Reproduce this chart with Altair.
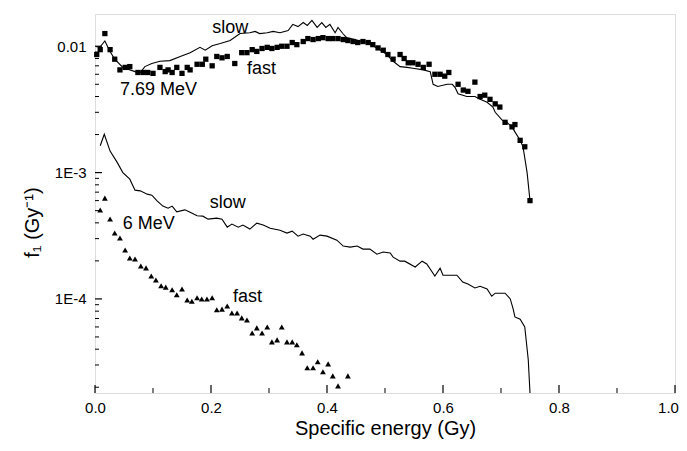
import altair as alt
import pandas as pd

# ---- 7.69 MeV, fast (squares) ----
x_fast769 = [0.003, 0.009, 0.017, 0.026, 0.034, 0.043, 0.052, 0.060, 0.074, 0.083,
             0.091, 0.100, 0.112, 0.121, 0.126, 0.133, 0.141, 0.150, 0.159, 0.164,
             0.176, 0.185, 0.191, 0.202, 0.210, 0.219, 0.228, 0.241, 0.253, 0.262,
             0.271, 0.279, 0.288, 0.297, 0.305, 0.314, 0.322, 0.331, 0.340, 0.348,
             0.359, 0.367, 0.376, 0.385, 0.393, 0.402, 0.410, 0.419, 0.428, 0.436,
             0.445, 0.453, 0.462, 0.471, 0.479, 0.488, 0.497, 0.505, 0.514, 0.526,
             0.533, 0.540, 0.548, 0.557, 0.566, 0.576, 0.586, 0.595, 0.603, 0.610,
             0.626, 0.635, 0.643, 0.655, 0.664, 0.672, 0.681, 0.690, 0.698, 0.707,
             0.719, 0.724, 0.733, 0.741, 0.750]
y_fast769 = [0.0086, 0.0094, 0.0126, 0.0094, 0.0079, 0.0065, 0.0068, 0.0069, 0.0062, 0.0062,
             0.0062, 0.0061, 0.0068, 0.0063, 0.0065, 0.0062, 0.0068, 0.0061, 0.0068, 0.0065,
             0.0072, 0.0072, 0.0079, 0.0070, 0.0083, 0.0081, 0.0083, 0.0073, 0.0089, 0.0089,
             0.0094, 0.0091, 0.0096, 0.0098, 0.0096, 0.0098, 0.0100, 0.0100, 0.0107, 0.0103,
             0.0109, 0.0115, 0.0113, 0.0115, 0.0117, 0.0115, 0.0115, 0.0115, 0.0113, 0.0111,
             0.0109, 0.0107, 0.0109, 0.0107, 0.0103, 0.0097, 0.0093, 0.0086, 0.0079, 0.0086,
             0.0080, 0.0074, 0.0074, 0.0072, 0.0068, 0.0072, 0.0060, 0.0060, 0.0058, 0.0062,
             0.0050, 0.0045, 0.0044, 0.0052, 0.0040, 0.0041, 0.0038, 0.0035, 0.0033, 0.0025,
             0.0023, 0.0024, 0.0018, 0.0016, 0.0006]

# ---- 7.69 MeV, slow (line) ----
x_slow769 = [0.002, 0.009, 0.017, 0.026, 0.034, 0.048, 0.069, 0.078, 0.086, 0.098,
             0.112, 0.129, 0.147, 0.164, 0.181, 0.190, 0.202, 0.216, 0.233, 0.250,
             0.267, 0.276, 0.284, 0.297, 0.307, 0.319, 0.333, 0.341, 0.350, 0.359,
             0.366, 0.374, 0.383, 0.391, 0.398, 0.405, 0.414, 0.419, 0.428, 0.434,
             0.448, 0.460, 0.471, 0.479, 0.491, 0.503, 0.514, 0.526, 0.538, 0.548,
             0.566, 0.578, 0.583, 0.591, 0.607, 0.616, 0.621, 0.626, 0.641, 0.655,
             0.664, 0.676, 0.686, 0.690, 0.702, 0.710, 0.719, 0.724, 0.733, 0.738,
             0.745, 0.750]
y_slow769 = [0.0099, 0.0099, 0.0110, 0.0091, 0.0079, 0.0068, 0.0063, 0.0062, 0.0069, 0.0073,
             0.0076, 0.0077, 0.0083, 0.0089, 0.0098, 0.0093, 0.0101, 0.0105, 0.0111, 0.0126,
             0.0128, 0.0131, 0.0126, 0.0128, 0.0131, 0.0128, 0.0133, 0.0149, 0.0143, 0.0154,
             0.0146, 0.0160, 0.0141, 0.0154, 0.0141, 0.0149, 0.0128, 0.0141, 0.0125, 0.0117,
             0.0113, 0.0109, 0.0107, 0.0101, 0.0094, 0.0086, 0.0076, 0.0069, 0.0068, 0.0067,
             0.0065, 0.0063, 0.0050, 0.0048, 0.0050, 0.0050, 0.0047, 0.0042, 0.0040, 0.0040,
             0.0038, 0.0036, 0.0033, 0.0030, 0.0026, 0.0025, 0.0023, 0.0021, 0.0018, 0.0016,
             0.0010, 0.0006]

# ---- 6 MeV, slow (line) ----
x_slow6 = [0.009, 0.016, 0.026, 0.038, 0.048, 0.060, 0.069, 0.078, 0.090, 0.098,
           0.107, 0.117, 0.126, 0.133, 0.141, 0.155, 0.164, 0.176, 0.186, 0.195,
           0.210, 0.219, 0.228, 0.236, 0.247, 0.255, 0.267, 0.279, 0.290, 0.302,
           0.319, 0.331, 0.340, 0.350, 0.359, 0.371, 0.376, 0.388, 0.400, 0.417,
           0.428, 0.440, 0.452, 0.462, 0.474, 0.486, 0.497, 0.509, 0.514, 0.526,
           0.534, 0.552, 0.564, 0.572, 0.586, 0.595, 0.600, 0.624, 0.634, 0.643,
           0.655, 0.664, 0.676, 0.684, 0.690, 0.707, 0.716, 0.721, 0.724, 0.733,
           0.741, 0.747, 0.752]
y_slow6 = [0.00163, 0.00201, 0.00148, 0.00121, 0.00100, 0.000887, 0.000726, 0.000717, 0.000675, 0.000663,
           0.000597, 0.000543, 0.000523, 0.000543, 0.000489, 0.000507, 0.000486, 0.000455, 0.000452, 0.000428,
           0.000436, 0.000428, 0.000370, 0.000391, 0.000370, 0.000384, 0.000357, 0.000398, 0.000384, 0.000363,
           0.000350, 0.000332, 0.000344, 0.000314, 0.000326, 0.000314, 0.000297, 0.000320, 0.000314, 0.000292,
           0.000262, 0.000257, 0.000262, 0.000248, 0.000248, 0.000226, 0.000235, 0.000231, 0.000214, 0.000199,
           0.000199, 0.000179, 0.000199, 0.000189, 0.000152, 0.000175, 0.000154, 0.000154, 0.000136, 0.000131,
           0.000122, 0.000126, 0.000120, 0.000105, 0.000111, 0.000111, 0.000100, 0.0000830, 0.0000720, 0.0000690,
           0.0000600, 0.0000330, 0.0000120]

# ---- 6 MeV, fast (triangles) ----
x_fast6 = [0.009, 0.017, 0.026, 0.034, 0.043, 0.052, 0.060, 0.069, 0.079, 0.088,
           0.097, 0.105, 0.114, 0.122, 0.133, 0.141, 0.150, 0.159, 0.167, 0.176,
           0.184, 0.193, 0.202, 0.210, 0.219, 0.228, 0.236, 0.245, 0.253, 0.262,
           0.271, 0.279, 0.288, 0.297, 0.305, 0.314, 0.322, 0.331, 0.340, 0.348,
           0.357, 0.366, 0.376, 0.384, 0.393, 0.402, 0.410, 0.419, 0.436]
y_fast6 = [5.05e-4, 6.28e-4, 4.29e-4, 3.32e-4, 3.04e-4, 2.44e-4, 2.11e-4, 2.07e-4, 1.82e-4, 1.76e-4,
           1.52e-4, 1.41e-4, 1.27e-4, 1.24e-4, 1.18e-4, 1.08e-4, 1.20e-4, 9.8e-5, 9.6e-5, 1.02e-4,
           1.00e-4, 1.00e-4, 1.02e-4, 8.2e-5, 8.3e-5, 8.8e-5, 7.75e-5, 7.75e-5, 7.08e-5, 6.82e-5,
           5.38e-5, 5.9e-5, 5.38e-5, 6.0e-5, 4.57e-5, 4.74e-5, 6.0e-5, 4.57e-5, 4.57e-5, 4.33e-5,
           3.74e-5, 2.85e-5, 2.85e-5, 3.18e-5, 2.65e-5, 3.06e-5, 2.46e-5, 2.05e-5, 2.46e-5]

# ---- annotations ----
ann_text = ["slow", "fast", "7.69 MeV", "slow", "6 MeV", "fast"]
ann_x = [0.202, 0.262, 0.043, 0.198, 0.048, 0.238]
ann_y = [0.0128, 0.0060, 0.00415, 5.23e-4, 3.57e-4, 9.47e-5]

# ---- axis ticks ----
x_major = [0.0, 0.2, 0.4, 0.6, 0.8, 1.0]
x_minor = [0.1, 0.3, 0.5, 0.7, 0.9]
y_major = [1e-4, 1e-3, 1e-2]
y_minor = [m * d for d in [1e-5, 1e-4, 1e-3] for m in range(2, 10) if 1.8e-5 <= m * d <= 0.018]

W, H = 580, 379
FONT = "Liberation Sans"

xs = alt.Scale(domain=[0, 1], nice=False, zero=False)
ys = alt.Scale(type="log", domain=[1.8e-5, 0.018], nice=False)

df_f769 = pd.DataFrame({"x": x_fast769, "y": y_fast769})
df_s769 = pd.DataFrame({"x": x_slow769, "y": y_slow769})
df_s6 = pd.DataFrame({"x": x_slow6, "y": y_slow6})
df_f6 = pd.DataFrame({"x": x_fast6, "y": y_fast6})
df_ann = pd.DataFrame({"x": ann_x, "y": ann_y, "t": ann_text})

xaxis = alt.Axis(values=x_major, format=".1f", title="Specific energy (Gy)", grid=False,
                 ticks=False, domain=False, labelFontSize=15, labelPadding=7, labelFlush=False,
                 labelOffset={"condition": {"test": "datum.value >= 0.99", "value": -7}, "value": 0},
                 titleFontSize=20, titleFontWeight="normal", titlePadding=3,
                 labelFont=FONT, titleFont=FONT, labelColor="black", titleColor="black")
yaxis = alt.Axis(values=y_major, title="f\u2081 (Gy\u207b\u00b9)", grid=False, ticks=False, domain=False,
                 labelExpr="datum.value >= 0.009 ? '0.01' : (datum.value >= 0.0009 ? '1E-3' : '1E-4')",
                 labelFontSize=15, labelPadding=9, labelFlush=False, titleFontSize=20,
                 titleFontWeight="normal", titlePadding=12, titleY=208, labelFont=FONT, titleFont=FONT,
                 labelColor="black", titleColor="black")

line769 = alt.Chart(df_s769).mark_line(color="black", strokeWidth=1.1).encode(
    x=alt.X("x:Q", scale=xs, axis=xaxis),
    y=alt.Y("y:Q", scale=ys, axis=yaxis),
)
line6 = alt.Chart(df_s6).mark_line(color="black", strokeWidth=1.1, clip=True).encode(
    x=alt.X("x:Q", scale=xs, axis=None),
    y=alt.Y("y:Q", scale=ys, axis=None),
)
sq = alt.Chart(df_f769).mark_square(color="black", size=28, opacity=1).encode(
    x=alt.X("x:Q", scale=xs, axis=None),
    y=alt.Y("y:Q", scale=ys, axis=None),
)
tri = alt.Chart(df_f6).mark_point(shape="triangle-up", filled=True, color="black", size=34, opacity=1).encode(
    x=alt.X("x:Q", scale=xs, axis=None),
    y=alt.Y("y:Q", scale=ys, axis=None),
)
txt = alt.Chart(df_ann).mark_text(align="left", baseline="alphabetic", fontSize=18, font=FONT, color="black").encode(
    x=alt.X("x:Q", scale=xs, axis=None),
    y=alt.Y("y:Q", scale=ys, axis=None),
    text="t:N",
)
ymaj = alt.Chart(pd.DataFrame({"v": y_major})).mark_rule(color="black", strokeWidth=1.2).encode(
    y=alt.Y("v:Q", scale=ys, axis=None), x=alt.value(0), x2=alt.value(7))
ymin = alt.Chart(pd.DataFrame({"v": y_minor})).mark_rule(color="black", strokeWidth=1.0).encode(
    y=alt.Y("v:Q", scale=ys, axis=None), x=alt.value(0), x2=alt.value(4))
xmaj = alt.Chart(pd.DataFrame({"v": x_major})).mark_rule(color="black", strokeWidth=1.2).encode(
    x=alt.X("v:Q", scale=xs, axis=None), y=alt.value(H), y2=alt.value(H - 8))
xmin = alt.Chart(pd.DataFrame({"v": x_minor})).mark_rule(color="black", strokeWidth=1.0).encode(
    x=alt.X("v:Q", scale=xs, axis=None), y=alt.value(H), y2=alt.value(H - 5))

chart = alt.layer(line769, line6, sq, tri, txt, ymaj, ymin, xmaj, xmin).resolve_axis(
    x="independent", y="independent"
).properties(
    width=W, height=H,
    autosize=alt.AutoSizeParams(type="none"),
    padding={"left": 87, "top": 6, "right": 4, "bottom": 50},
).configure_view(stroke="black", strokeWidth=1.6).configure(background="white")

chart.save("out.html", embed_options={"renderer": "svg", "actions": False})
